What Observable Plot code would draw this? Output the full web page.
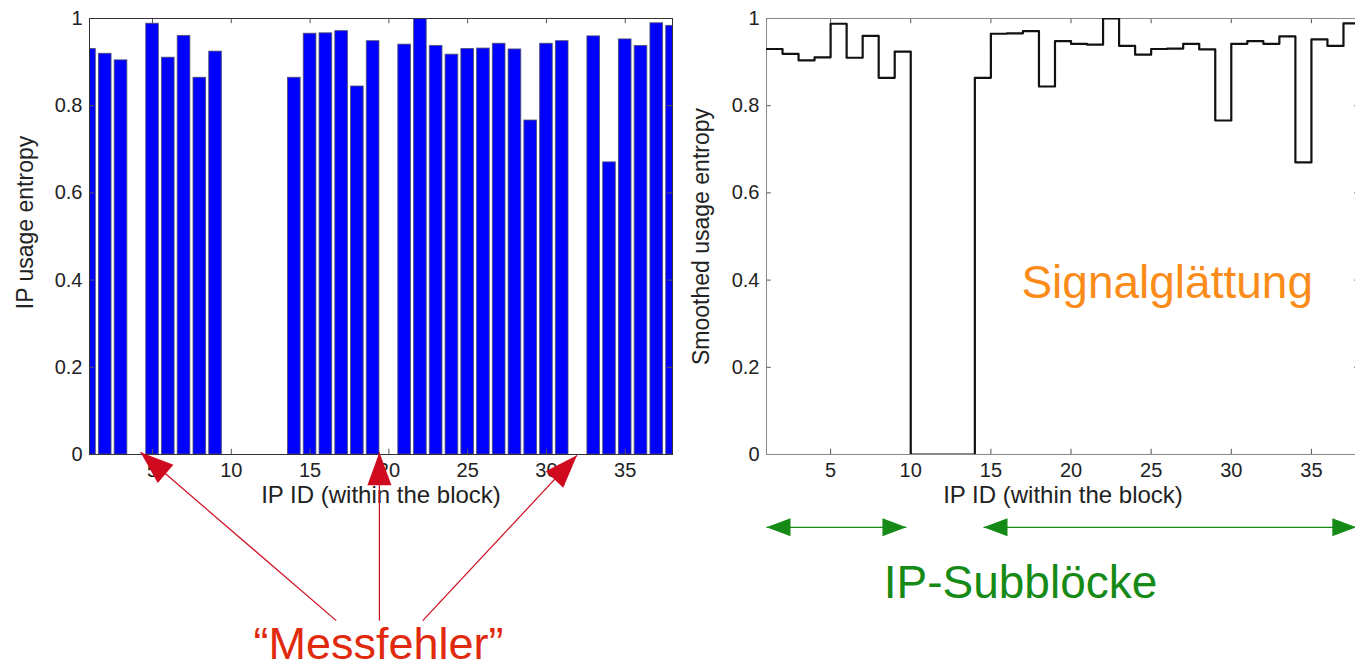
<!DOCTYPE html>
<html>
<head>
<meta charset="utf-8">
<script src="https://cdn.jsdelivr.net/npm/d3@7"></script>
<script src="https://cdn.jsdelivr.net/npm/@observablehq/plot@0.6"></script>
<style>
  html, body { margin: 0; padding: 0; background: #fff; overflow: hidden; }
  #stage { position: relative; width: 1355px; height: 670px; overflow: hidden; background: #fff; }
  #left, #right { position: absolute; top: 0; width: 690px; height: 670px; }
  #left { left: 0; }
  #right { left: 690px; }
  svg { overflow: visible; max-width: none !important; }
</style>
</head>
<body>
<div id="stage"><div id="left"></div><div id="right"></div></div>
<script>
// ---- data ----
const ipIds = d3.range(1, 39);
const entropy = [0.930, 0.919, 0.904, 0, 0.988, 0.910, 0.960, 0.864, 0.924, 0, 0, 0, 0, 0.864, 0.965, 0.966, 0.971, 0.844, 0.948, 0, 0.940, 1.0, 0.937, 0.917, 0.930, 0.931, 0.942, 0.929, 0.766, 0.942, 0.948, 0, 0.959, 0.670, 0.952, 0.937, 0.989, 0.983];
const smoothed = [0.930, 0.919, 0.904, 0.911, 0.988, 0.910, 0.960, 0.864, 0.924, 0, 0, 0, 0, 0.864, 0.965, 0.966, 0.971, 0.844, 0.948, 0.942, 0.940, 1.0, 0.937, 0.917, 0.930, 0.931, 0.942, 0.929, 0.766, 0.942, 0.948, 0.942, 0.959, 0.670, 0.952, 0.937, 0.989, 0.983];
const xTicks = [5, 10, 15, 20, 25, 30, 35];
const yTicks = [0, 0.2, 0.4, 0.6, 0.8, 1];
const xLabel = "IP ID (within the block)";
const yLabelLeft = "IP usage entropy";
const yLabelRight = "Smoothed usage entropy";
const errorNote = "\u201CMessfehler\u201D";
const smoothNote = "Signalgl\u00E4ttung";
const blockNote = "IP-Subbl\u00F6cke";

const table = ipIds.map((id, i) => ({id, entropy: entropy[i], smoothed: smoothed[i]}));

// ---- layout ----
const FONT = "'Liberation Sans', Arial, Helvetica, sans-serif";
const W = 690, H = 670, MT = 18, MB = 216;
const leftM = {ml: 89, mr: 18};
const rightM = {ml: 76, mr: 21};
const xDomain = [1, 38], yDomain = [0, 1];

function pxPerUnit(m) {
  return {kx: (W - m.ml - m.mr) / (xDomain[1] - xDomain[0]), ky: -(H - MT - MB) / (yDomain[1] - yDomain[0])};
}
function headSymbol(len, hw) {
  return {draw(ctx) { ctx.moveTo(0, 0); ctx.lineTo(-hw, len); ctx.lineTo(hw, len); ctx.closePath(); }};
}
function rotation(a, m) {
  const {kx, ky} = pxPerUnit(m);
  const dx = (a.x2 - a.x1) * kx, dy = (a.y2 - a.y1) * ky;
  return Math.atan2(dx, -dy) * 180 / Math.PI;
}

function frameMarks(stroke) {
  return [
    Plot.ruleX(xTicks, {y1: 0, y2: 0.012, stroke: "#555"}),
    Plot.ruleX(xTicks, {y1: 1, y2: 0.988, stroke: "#555"}),
    Plot.ruleY(yTicks, {x1: 1, x2: 1.3, stroke: "#555"}),
    Plot.ruleY(yTicks, {x1: 38, x2: 37.7, stroke: "#555"}),
    Plot.axisX(xTicks, {tickSize: 0, tickPadding: 8, label: null}),
    Plot.axisY(yTicks, {tickSize: 0, tickPadding: 7, label: null, tickFormat: d => String(d)}),
    Plot.frame({stroke})
  ];
}

// ---- left: raw entropy bars with "Messfehler" arrows ----
const errArrows = [
  {x1: 16.66, y1: -0.381, x2: 4.24, y2: 0.005},
  {x1: 19.40, y1: -0.381, x2: 19.40, y2: 0.005},
  {x1: 22.15, y1: -0.381, x2: 31.94, y2: -0.002}
];
const RED = "#cf0a1f";
const leftPlot = Plot.plot({
  width: W, height: H,
  marginLeft: leftM.ml, marginRight: leftM.mr, marginTop: MT, marginBottom: MB,
  style: {fontFamily: FONT, fontSize: "20px", color: "#222", background: "transparent"},
  x: {domain: xDomain},
  y: {domain: yDomain},
  marks: [
    Plot.rectY(table, {x1: d => d.id - 0.4, x2: d => d.id + 0.4, y: "entropy", fill: "#0000ff", stroke: "#4a4a6a", strokeWidth: 1, strokeOpacity: 0.8, clip: true}),
    ...frameMarks("#333"),
    Plot.text([yLabelLeft], {frameAnchor: "left", textAnchor: "middle", rotate: -90, dx: -64, dy: -14, fontSize: 23}),
    Plot.text([xLabel], {frameAnchor: "bottom", dy: 48, lineAnchor: "bottom", fontSize: 24}),
    Plot.link(errArrows, {x1: "x1", y1: "y1", x2: "x2", y2: "y2", stroke: RED, strokeWidth: 1.2}),
    Plot.dot(errArrows, {x: "x2", y: "y2", symbol: headSymbol(33, 12), r: 10, fill: RED, stroke: "none", rotate: d => rotation(d, leftM)}),
    Plot.text([errorNote], {x: 19.34, y: -0.468, lineAnchor: "bottom", fontSize: 45, fill: "#e0290d"})
  ]
});
document.getElementById("left").appendChild(leftPlot);

// ---- right: smoothed step line with sub-block arrows ----
const GREEN = "#168a16";
const blockArrows = [
  {x1: 1.0, x2: 9.73},
  {x1: 14.54, x2: 37.8}
];
const yArrow = -0.167;
const heads = blockArrows.flatMap(a => [
  {x: a.x1, y: yArrow, dir: -90},
  {x: a.x2, y: yArrow, dir: 90}
]);
const rightPlot = Plot.plot({
  width: W, height: H,
  marginLeft: rightM.ml, marginRight: rightM.mr, marginTop: MT, marginBottom: MB,
  style: {fontFamily: FONT, fontSize: "20px", color: "#222", background: "transparent"},
  x: {domain: xDomain},
  y: {domain: yDomain},
  marks: [
    ...frameMarks("#888"),
    Plot.line(table, {x: "id", y: "smoothed", curve: "step-after", stroke: "#111", strokeWidth: 2.2, clip: true}),
    Plot.text([yLabelRight], {frameAnchor: "left", textAnchor: "middle", rotate: -90, dx: -65, dy: 0, fontSize: 23}),
    Plot.text([xLabel], {frameAnchor: "bottom", dy: 48, lineAnchor: "bottom", fontSize: 24}),
    Plot.text([smoothNote], {x: 26.0, y: 0.36, lineAnchor: "bottom", fontSize: 46, fill: "#fb8c1a"}),
    Plot.link(blockArrows, {x1: "x1", x2: "x2", y1: () => yArrow, y2: () => yArrow, stroke: GREEN, strokeWidth: 1.3}),
    Plot.dot(heads, {x: "x", y: "y", symbol: headSymbol(24, 9), r: 8, fill: GREEN, stroke: "none", rotate: "dir"}),
    Plot.text([blockNote], {x: 16.85, y: -0.330, lineAnchor: "bottom", fontSize: 46, fill: GREEN})
  ]
});
document.getElementById("right").appendChild(rightPlot);
</script>
</body>
</html>
